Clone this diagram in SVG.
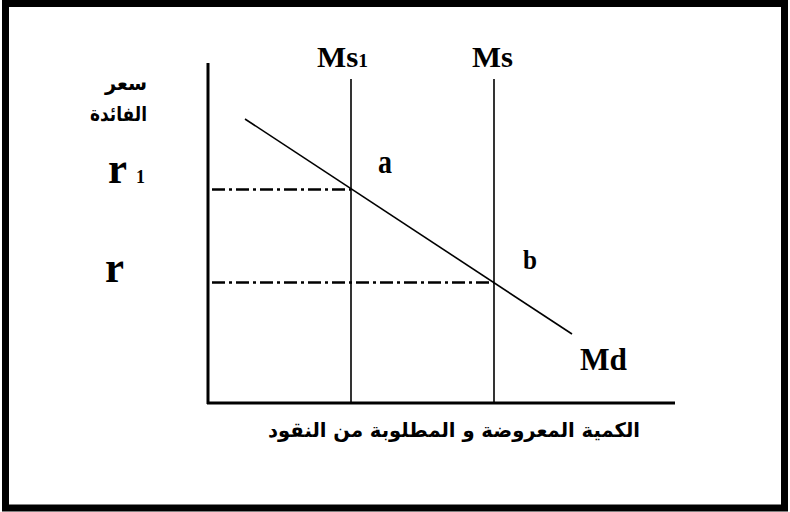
<svg xmlns="http://www.w3.org/2000/svg" width="790" height="512" viewBox="0 0 790 512">
<style>
.lat{font-family:"Liberation Serif","Times New Roman",serif;font-weight:bold;fill:#000}
.ar{font-family:"DejaVu Sans","Noto Sans",sans-serif;font-weight:bold;fill:#000}
.axis{stroke:#000;stroke-width:3;fill:none}
.thin{stroke:#000;stroke-width:1.6;fill:none}
.dd{stroke:#000;stroke-width:2.5;fill:none;stroke-dasharray:13 4 3 4}
</style>
<rect x="0" y="0" width="790" height="512" fill="#fff"/>
<rect id="frame" x="5.5" y="3.5" width="779" height="504.5" fill="none" stroke="#000" stroke-width="7"/>
<g id="connectors">
<line class="axis" x1="208" y1="63" x2="208" y2="404"/>
<line class="axis" x1="207" y1="403" x2="675" y2="403"/>
<line class="thin" x1="351" y1="79" x2="351" y2="403"/>
<line class="thin" x1="494" y1="79" x2="494" y2="403"/>
<line class="thin" x1="245" y1="119" x2="572" y2="334"/>
<line class="dd" x1="212" y1="189.5" x2="351" y2="189.5"/>
<line class="dd" x1="212" y1="282.5" x2="494" y2="282.5"/>
</g>
<g id="label-ms1"><text class="lat" x="317" y="67" font-size="30" textLength="51" lengthAdjust="spacingAndGlyphs">Ms<tspan font-size="19">1</tspan></text></g>
<g id="label-ms"><text class="lat" x="472" y="67" font-size="30" textLength="41" lengthAdjust="spacingAndGlyphs">Ms</text></g>
<g id="label-a"><text class="lat" x="378" y="173" font-size="34" textLength="14" lengthAdjust="spacingAndGlyphs">a</text></g>
<g id="label-b"><text class="lat" x="523" y="269" font-size="27" textLength="14" lengthAdjust="spacingAndGlyphs">b</text></g>
<g id="label-md"><text class="lat" x="580" y="370" font-size="32" textLength="47" lengthAdjust="spacingAndGlyphs">Md</text></g>
<g id="label-r1"><text class="lat" x="108" y="183" font-size="44" textLength="19" lengthAdjust="spacingAndGlyphs">r</text><text class="lat" x="136" y="183" font-size="19" textLength="9" lengthAdjust="spacingAndGlyphs">1</text></g>
<g id="label-r"><text class="lat" x="105" y="282" font-size="44" textLength="19" lengthAdjust="spacingAndGlyphs">r</text></g>
<g id="label-y"><text class="ar" x="126" y="90" font-size="20" text-anchor="middle" direction="rtl" textLength="42" lengthAdjust="spacingAndGlyphs">سعر</text><text class="ar" x="118.5" y="121" font-size="20" text-anchor="middle" direction="rtl" textLength="57" lengthAdjust="spacingAndGlyphs">الفائدة</text></g>
<g id="label-x"><text class="ar" x="454" y="437" font-size="20" text-anchor="middle" direction="rtl" textLength="372" lengthAdjust="spacingAndGlyphs">الكمية المعروضة و المطلوبة من النقود</text></g>
</svg>
